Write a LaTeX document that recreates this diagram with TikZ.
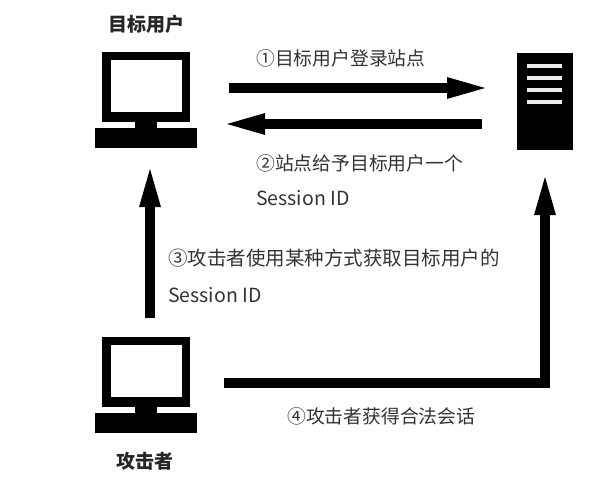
\documentclass[tikz,border=0pt]{standalone}
\usepackage{fontspec}
\usetikzlibrary{arrows.meta}
\setmainfont{Noto Sans CJK SC}
\tikzset{
  lbl/.style={anchor=west,inner sep=0pt,text=black!80,font=\fontsize{18.8}{20}\selectfont},
  lblw/.style={anchor=west,inner sep=0pt,text=black!80,font=\fontsize{19.5}{20}\selectfont},
  ttl/.style={anchor=center,inner sep=0pt,text=black!85,font=\fontsize{19}{20}\selectfont\bfseries},
  bigarrow/.style={line width=10pt,draw=black,-{Triangle[length=46pt,width=18pt]},shorten >=-8pt},
  pcpart/.style={fill=black,draw=none},
  screen/.style={fill=white,draw=none},
  slot/.style={fill=white!92!black,draw=none}
}
\newcommand{\pcicon}[1]{%
  \fill[pcpart] (102,#1) rectangle (190,#1+70);
  \fill[screen] (111,#1+8) rectangle (181.5,#1+60);
  \fill[pcpart] (135,#1+70) rectangle (157,#1+76);
  \fill[pcpart] (95,#1+75.5) rectangle (197,#1+96);
}
\begin{document}
\begin{tikzpicture}[x=1pt,y=-1pt]
\useasboundingbox (0,0) rectangle (614,480);
\fill[white] (0,0) rectangle (614,480);
\pcicon{52}
\pcicon{337}
\fill[pcpart] (517,53) rectangle (573,150);
\foreach \yy in {66,78,90,102} \fill[slot] (527,\yy-1.7) rectangle (562,\yy+1.7);

\coordinate (a1s) at (229,88);
\coordinate (a1e) at (485,88);
\coordinate (a2s) at (482,124);
\coordinate (a2e) at (227,124);
\coordinate (a3s) at (150,318);
\coordinate (a3e) at (150,169);
\coordinate (a4s) at (224,383);
\coordinate (a4c) at (545,383);
\coordinate (a4e) at (545,177);

\draw[bigarrow] (a1s) -- (a1e);
\draw[bigarrow] (a2s) -- (a2e);
\draw[bigarrow] (a3s) -- (a3e);
\draw[bigarrow,line join=miter] (a4s) -- (a4c) -- (a4e);

\node[ttl] (usertitle) at (146,24) {目标用户};
\node[ttl] (attackertitle) at (145,461) {攻击者};
\node[lbl] (t1) at (256,58) {①目标用户登录站点};
\node[lbl] (t2) at (256,163) {②站点给予目标用户一个};
\node[lblw] (t2b) at (256,198) {Session ID};
\node[lblw] (t3) at (168,258) {③攻击者使用某种方式获取目标用户的};
\node[lblw] (t3b) at (168,295) {Session ID};
\node[lbl] (t4) at (287,416) {④攻击者获得合法会话};
\end{tikzpicture}
\end{document}
